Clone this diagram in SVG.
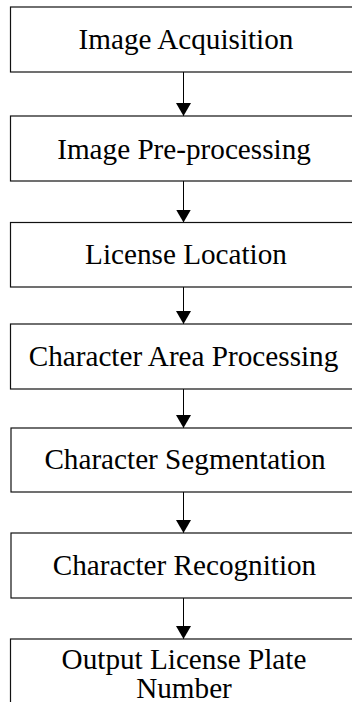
<svg xmlns="http://www.w3.org/2000/svg" width="352" height="702" viewBox="0 0 352 702">
  <defs>
    <marker id="arrow" markerUnits="userSpaceOnUse" markerWidth="14" markerHeight="16" refX="13" refY="7.5" orient="auto">
      <path d="M0,0 L13,7.5 L0,15 Z" fill="#000"/>
    </marker>
  </defs>
  <style>
    .box { fill: #fff; stroke: #111; stroke-width: 1.2; }
    .lbl { font-family: "Liberation Serif", "Times New Roman", serif; font-size: 29.2px; fill: #000; text-anchor: middle; }
    .edge { stroke: #000; stroke-width: 1; fill: none; marker-end: url(#arrow); }
  </style>
  <rect width="352" height="702" fill="#fff"/>

  <g id="connectors">
    <line class="edge" x1="183.5" y1="72" x2="183.5" y2="116"/>
    <line class="edge" x1="183.5" y1="181" x2="183.5" y2="222.5"/>
    <line class="edge" x1="183.5" y1="287" x2="183.5" y2="324"/>
    <line class="edge" x1="183.5" y1="389" x2="183.5" y2="428"/>
    <line class="edge" x1="183.5" y1="492" x2="183.5" y2="533"/>
    <line class="edge" x1="183.5" y1="598" x2="183.5" y2="639"/>
  </g>

  <g id="acquisition">
    <rect class="box" x="10.5" y="7" width="348" height="65"/>
    <text class="lbl" x="186" y="49">Image Acquisition</text>
  </g>
  <g id="preprocessing">
    <rect class="box" x="10.5" y="116" width="348" height="65"/>
    <text class="lbl" x="184" y="158.5">Image Pre-processing</text>
  </g>
  <g id="location">
    <rect class="box" x="10.5" y="222.5" width="348" height="64.5"/>
    <text class="lbl" x="186" y="264">License Location</text>
  </g>
  <g id="area">
    <rect class="box" x="10.5" y="324" width="348" height="65"/>
    <text class="lbl" x="183.5" y="365.5">Character Area Processing</text>
  </g>
  <g id="segmentation">
    <rect class="box" x="11" y="428" width="348" height="64"/>
    <text class="lbl" x="185" y="469">Character Segmentation</text>
  </g>
  <g id="recognition">
    <rect class="box" x="11" y="533" width="348" height="65"/>
    <text class="lbl" x="184.5" y="574.5">Character Recognition</text>
  </g>
  <g id="output">
    <rect class="box" x="10.5" y="639" width="348" height="80"/>
    <text class="lbl" x="184" y="668.5">Output License Plate</text>
    <text class="lbl" x="184" y="697.5">Number</text>
  </g>
</svg>
